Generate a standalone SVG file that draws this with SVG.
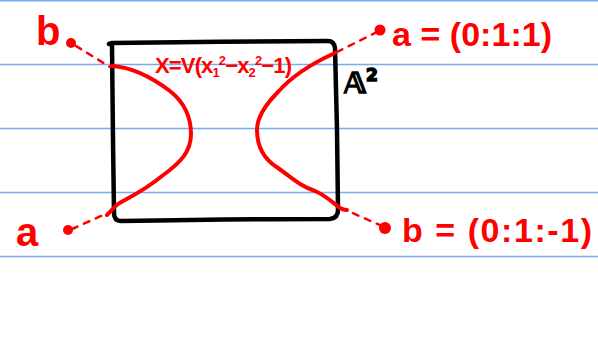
<svg xmlns="http://www.w3.org/2000/svg" width="598" height="359" viewBox="0 0 598 359">
<style>
.rule{stroke:#74aef0;stroke-width:1.6}
.box{fill:none;stroke:#000;stroke-width:4.5;stroke-linecap:round;stroke-linejoin:round}
.curve{fill:none;stroke:#f00;stroke-width:4;stroke-linecap:round;stroke-linejoin:round}
.dash{fill:none;stroke:#f00;stroke-width:2.5;stroke-dasharray:6 7;stroke-linecap:round}
.dot{fill:#f00}
.lbl{font-family:"Liberation Sans",Arial,sans-serif;fill:#f00;font-weight:bold}
.blk{font-family:"DejaVu Sans","Liberation Sans",sans-serif;fill:#000;stroke:#000;stroke-width:1.6}
</style>
<rect width="598" height="359" fill="#fff"/>
<g id="rules">
<line class="rule" x1="0" y1="0.8" x2="598" y2="0.8"/>
<line class="rule" x1="0" y1="64.5" x2="598" y2="64.5"/>
<line class="rule" x1="0" y1="128.5" x2="598" y2="128.5"/>
<line class="rule" x1="0" y1="192.5" x2="598" y2="192.5"/>
<line class="rule" x1="0" y1="256.5" x2="598" y2="256.5"/>
</g>
<g id="plane">
<path class="box" d="M109,44 L112,43 C180,42 260,41 328,41 Q334,41 335,48 L337,130 L338,210 Q338,218 330,219 C260,219 180,220 121,221 Q114,221 114,213 L113,140 L112,45"/>
<text class="blk" x="344" y="93" font-size="29" font-weight="bold">𝔸<tspan font-size="17" dy="-12">2</tspan></text>
</g>
<g id="curve">
<path class="curve" d="M112,66 C130,67 150,76 170,91 C185,103 191,118 191,134 C191,152 180,163 162,176 C145,190 132,196 118,204 C114,207 110,212 107,215"/>
<path class="curve" d="M335,53 C315,62 292,76 278,92 C262,108 257,120 257,130 C257,148 265,160 278,168 C292,178 300,186 315,191 C327,196 334,204 340,208 C343,210 345,210 347,210"/>
<text class="lbl" x="155" y="73" font-size="22" textLength="137">X=V(x<tspan font-size="13" dy="4">1</tspan><tspan font-size="13" dy="-12">2</tspan><tspan dy="8">−x</tspan><tspan font-size="13" dy="4">2</tspan><tspan font-size="13" dy="-12">2</tspan><tspan dy="8">−1)</tspan></text>
</g>
<g id="connectors">
<line class="dash" x1="76" y1="46" x2="110" y2="67"/>
<line class="dash" x1="337" y1="52" x2="377" y2="32"/>
<line class="dash" x1="72" y1="229" x2="110" y2="212"/>
<line class="dash" x1="341" y1="208" x2="382" y2="226"/>
</g>
<g id="point-b-top">
<circle class="dot" cx="71" cy="43" r="5"/>
<text class="lbl" x="36" y="45" font-size="40">b</text>
</g>
<g id="point-a-top">
<circle class="dot" cx="380" cy="30" r="5.5"/>
<text class="lbl" x="392" y="46" font-size="34" textLength="160">a = (0:1:1)</text>
</g>
<g id="point-a-bottom">
<circle class="dot" cx="68" cy="230" r="5"/>
<text class="lbl" x="16" y="246" font-size="40">a</text>
</g>
<g id="point-b-bottom">
<circle class="dot" cx="385" cy="228" r="6"/>
<text class="lbl" x="402" y="242" font-size="34" textLength="190">b = (0:1:-1)</text>
</g>
</svg>
